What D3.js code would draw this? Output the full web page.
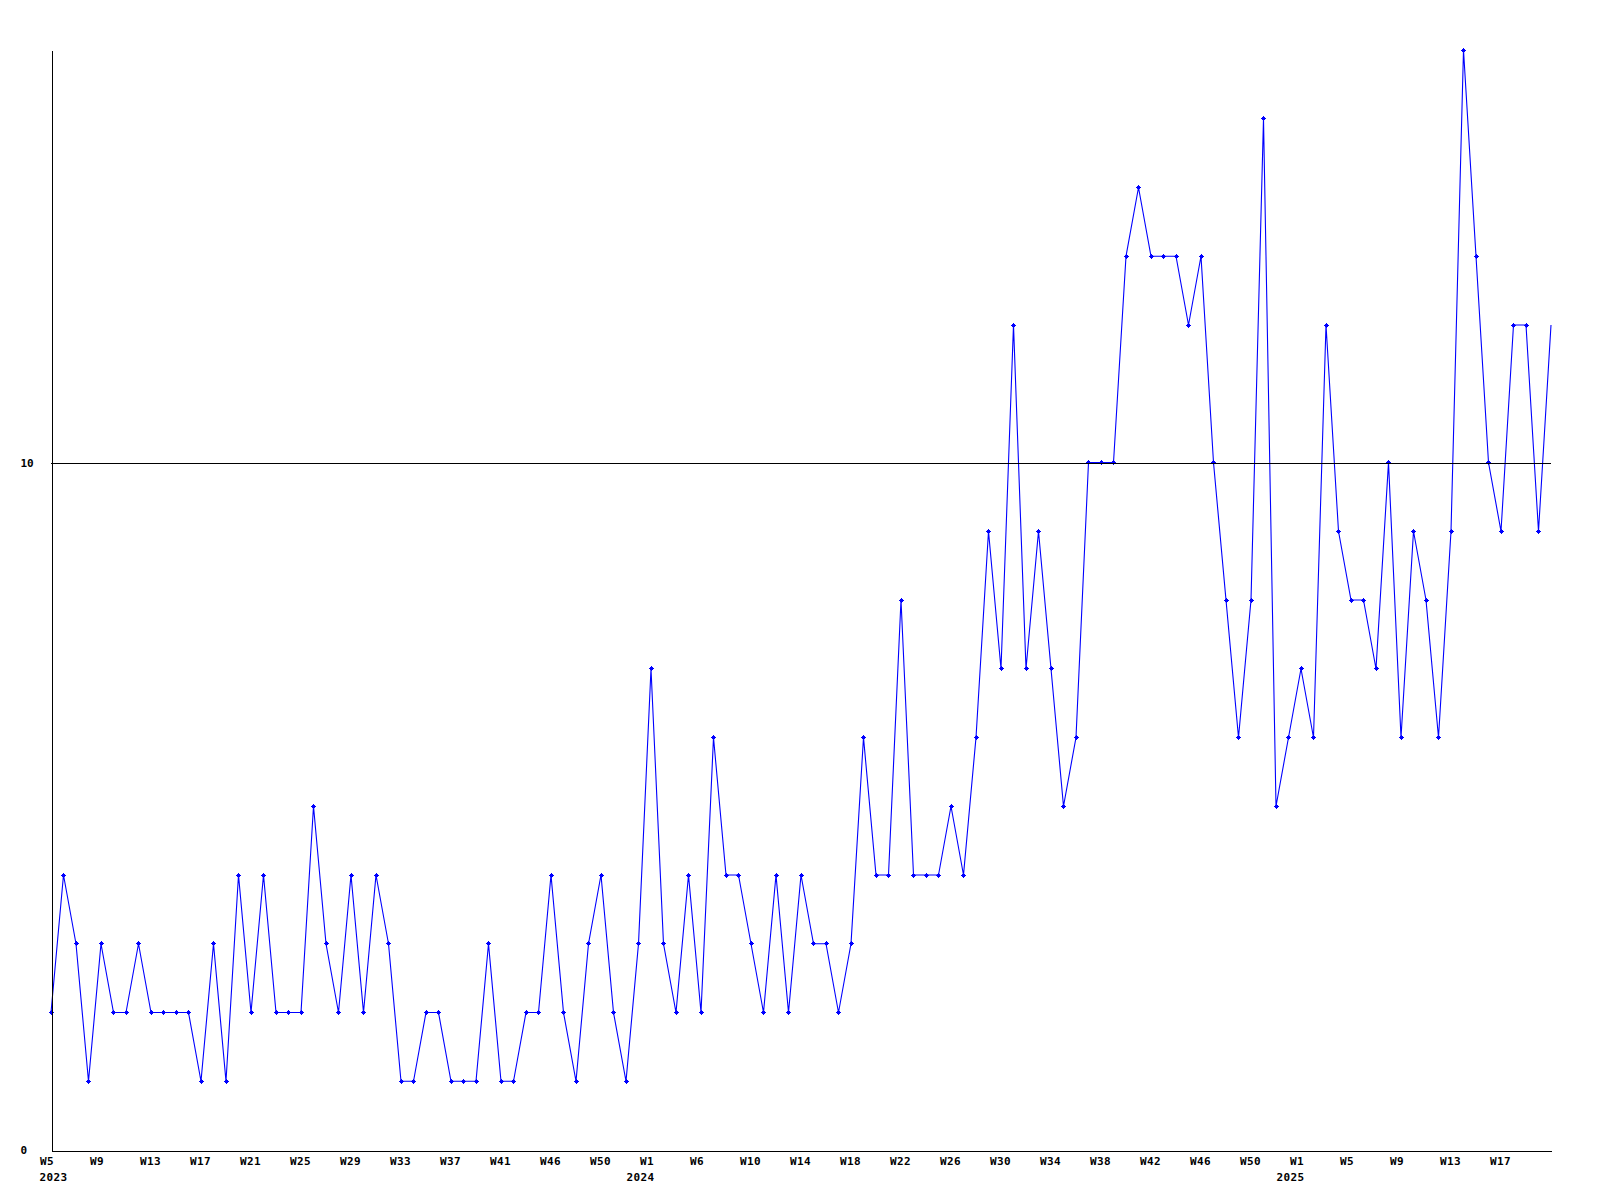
<!DOCTYPE html>
<html>
<head>
<meta charset="utf-8">
<script src="https://cdn.jsdelivr.net/npm/d3@7"></script>
<style>
  html, body { margin: 0; padding: 0; background: #fff; }
  svg { display: block; }
  text { font-family: "DejaVu Sans Mono", "Liberation Mono", monospace; font-weight: bold; font-size: 11px; fill: #000; }
</style>
</head>
<body>
<svg id="chart" width="1600" height="1200"></svg>
<script>
// Weekly values, W5 2023 .. W21 2025
const values = [
  2,4,3,1,3,2,2,3,2,2,
  2,2,1,3,1,4,2,4,2,2,
  2,5,3,2,4,2,4,3,1,1,
  2,2,1,1,1,3,1,1,2,2,
  4,2,1,3,4,2,1,3,7,3,
  2,4,2,6,4,4,3,2,4,2,
  4,3,3,2,3,6,4,4,8,4,
  4,4,5,4,6,9,7,12,7,9,
  7,5,6,10,10,10,13,14,13,13,
  13,12,13,10,8,6,8,15,5,6,
  7,6,12,9,8,8,7,10,6,9,
  8,6,9,16,13,10,9,12,12,9,
  12
];
// x tick labels: one every 4th point
const xTickIndex = [0,4,8,12,16,20,24,28,32,36,40,44,48,52,56,60,64,68,72,76,80,84,88,92,96,100,104,108,112,116];
const xTickLabels = ["W5","W9","W13","W17","W21","W25","W29","W33","W37","W41","W46","W50",
                     "W1","W6","W10","W14","W18","W22","W26","W30","W34","W38","W42","W46","W50",
                     "W1","W5","W9","W13","W17"];
const yearIndex = [0,48,100];
const yearLabels = ["2023","2024","2025"];
const yTicks = [0,10];
const yMax = 16;

const svg = d3.select("#chart");
const pLeft = 51, pRight = 1551, pTop = 50, pBottom = 1150;

const x = d3.scaleLinear().domain([0, values.length - 1]).range([pLeft, pRight]);
const y = d3.scaleLinear().domain([0, yMax]).range([pBottom, pTop]);

// data line
const line = d3.line().x((d, i) => x(i)).y(d => y(d));
svg.append("path")
  .datum(values)
  .attr("fill", "none")
  .attr("stroke", "#0000ff")
  .attr("stroke-width", 1.1)
  .attr("d", line);

// markers (last point has no marker)
const marker = "M-2.5,-0.5h5v1h-5z M-0.5,-2.5h1v5h-1z M-1.5,-1.5h3v3h-3z";
svg.append("g").selectAll("path")
  .data(values.slice(0, values.length - 1))
  .join("path")
  .attr("d", marker)
  .attr("fill", "#0000ff")
  .attr("shape-rendering", "crispEdges")
  .attr("transform", (d, i) => `translate(${x(i)},${y(d)})`);

// grid line at 10
svg.append("line")
  .attr("x1", pLeft).attr("x2", pRight)
  .attr("y1", Math.round(y(10)) + 0.5).attr("y2", Math.round(y(10)) + 0.5)
  .attr("stroke", "#000").attr("stroke-width", 1)
  .attr("shape-rendering", "crispEdges");

// y axis
const yAxis = d3.axisLeft(y).tickValues(yTicks).tickSize(0).tickSizeOuter(0).tickFormat(d3.format("d"));
const gy = svg.append("g").attr("transform", `translate(${pLeft + 0.5},0)`).call(yAxis);
gy.attr("font-family", null).attr("font-size", null);
gy.select(".domain").attr("stroke", "#000").attr("shape-rendering", "crispEdges");
gy.selectAll("text")
  .attr("text-anchor", "start")
  .attr("x", 20 - pLeft)
  .attr("dy", "0.36em");

// x axis
const xAxis = d3.axisBottom(x).tickValues(xTickIndex).tickSize(0).tickSizeOuter(0)
  .tickFormat((d, i) => xTickLabels[i]);
const gx = svg.append("g").attr("transform", `translate(0,${pBottom + 0.5})`).call(xAxis);
gx.attr("font-family", null).attr("font-size", null);
gx.select(".domain").attr("stroke", "#000").attr("shape-rendering", "crispEdges");
gx.selectAll("text")
  .attr("text-anchor", "start")
  .attr("x", -11.5)
  .attr("y", 14.5)
  .attr("dy", 0)
  .attr("letter-spacing", "0.4px");

// year labels
svg.append("g").selectAll("text")
  .data(yearIndex)
  .join("text")
  .attr("x", (d, i) => Math.max(x(d) - 24.5, x(0) - 11.5))
  .attr("y", pBottom + 30.5)
  .attr("letter-spacing", "0.4px")
  .text((d, i) => yearLabels[i]);
</script>
</body>
</html>
